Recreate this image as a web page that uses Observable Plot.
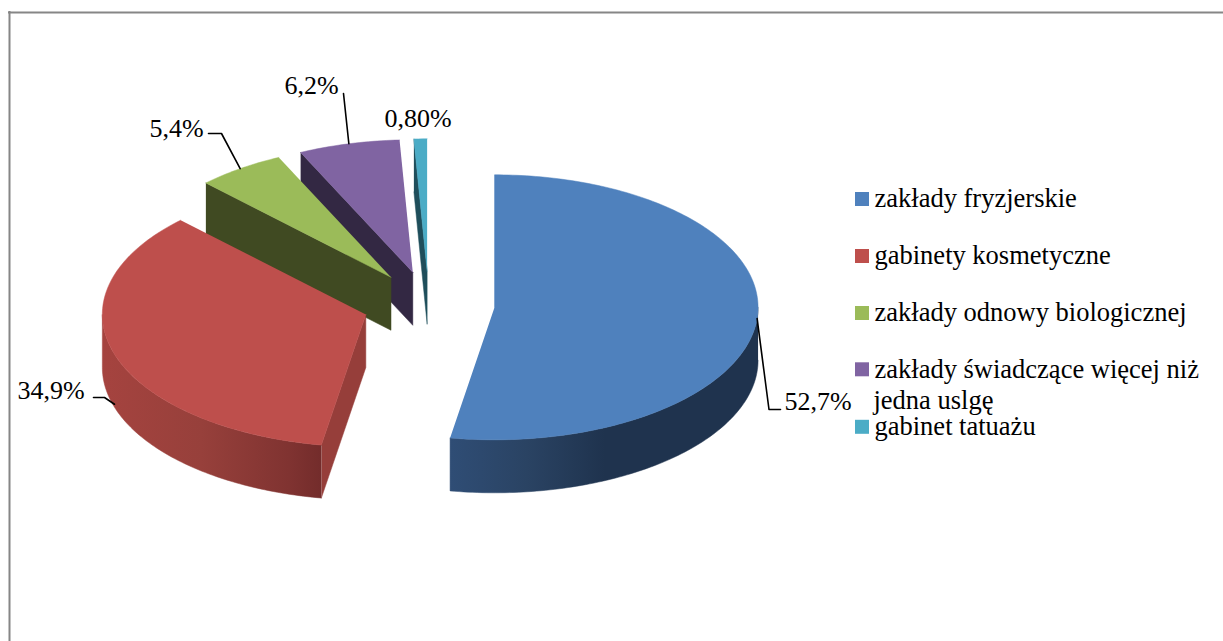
<!DOCTYPE html>
<html lang="pl">
<head>
<meta charset="utf-8">
<style>html,body{margin:0;padding:0;background:#fff}svg{display:block}svg text{font-family:"Liberation Serif","Times New Roman",Times,serif !important}</style>
<script src="https://cdn.jsdelivr.net/npm/d3@7"></script>
<script src="https://cdn.jsdelivr.net/npm/@observablehq/plot@0.6"></script>
</head>
<body>
<div id="chart"></div>
<script>
// --- data ---
const categories = ["zakłady fryzjerskie", "gabinety kosmetyczne", "zakłady odnowy biologicznej", "zakłady świadczące więcej niż\njedna uslgę", "gabinet tatuażu"];
const shares = [52.7, 34.9, 5.4, 6.2, 0.8];
const shareLabels = ["52,7%", "34,9%", "5,4%", "6,2%", "0,80%"];

// --- styles and layout ---
const topColors = ["#4f81bd", "#be4f4c", "#9bbb59", "#8064a2", "#4bacc6"];
const wallColors = ["url(#rimBlue)", "url(#rimRed)", "#404a22", "#332843", "#1f4e5b"];
const cutColors = ["#1f334e", "#963e3a", "#404a22", "#332843", "#1f4e5b"];
const FONT = '"Liberation Serif", "Times New Roman", Times, serif', LABEL_FS = 26, LEGEND_FS = 26.5;
const C = {x: 428.3, y: 304}, RX = 263.5, RY = 132.5, EXPLODE = 66, DEPTH = 53;
const labelPos = [[784, 409], [17, 398], [149, 136], [284, 93], [384, 126]];
const leaderElbows = [[[768.5, 409], [780, 409]], [[104, 397], [93, 397]], [[221, 133], [208, 133]], [[343, 93]], []];
const legendBaselines = [206.7, 263.7, 320.7, 377, 434.5];

// --- pie geometry, derived from the shares ---
const rad = d => d * Math.PI / 180;
let acc = 0;
const slices = shares.map((v, i) => {
  const a0 = acc * 3.6; acc += v; const a1 = acc * 3.6; const mid = (a0 + a1) / 2;
  const apex = {x: C.x + EXPLODE * Math.sin(rad(mid)), y: C.y - EXPLODE * (RY / RX) * Math.cos(rad(mid))};
  return {i, a0, a1, mid, apex};
});
const rimPt = (s, a, dy = 0) => ({x: s.apex.x + RX * Math.sin(rad(a)), y: s.apex.y - RY * Math.cos(rad(a)) + dy});
const arc = (s, a, b, dy = 0) => { const n = Math.max(2, Math.ceil(Math.abs(b - a))); return d3.range(n + 1).map(k => rimPt(s, a + (b - a) * k / n, dy)); };
const down = (p) => ({x: p.x, y: p.y + DEPTH});
const poly = (pts, fill) => Plot.line(pts, {x: "x", y: "y", fill, stroke: fill, strokeWidth: 0.5, curve: "linear"});

const sliceMarks = [];
for (const s of [slices[4], slices[3], slices[2], slices[1], slices[0]]) {
  // visible cut face at the slice's start edge
  if (Math.sin(rad(s.a0)) < -1e-6) {
    const r = rimPt(s, s.a0);
    sliceMarks.push(poly([r, s.apex, down(s.apex), down(r)], cutColors[s.i]));
  }
  // visible outer rim (front half)
  const f0 = Math.max(s.a0, 90), f1 = Math.min(s.a1, 270);
  if (f1 > f0) sliceMarks.push(poly([...arc(s, f0, f1), ...arc(s, f1, f0, DEPTH)], wallColors[s.i]));
  // top face
  sliceMarks.push(poly([s.apex, ...arc(s, s.a0, s.a1)], topColors[s.i]));
}

// leaders start on the slice's rim at its mid angle
const leaders = slices.map((s, i) => {
  if (!leaderElbows[i].length) return null;
  const start = i === 1 ? rimPt(s, s.mid, DEPTH - 3) : rimPt(s, s.mid);
  return [start, ...leaderElbows[i].map(([x, y]) => ({x, y}))];
}).filter(Boolean);

const labelRows = shareLabels.map((t, i) => ({t, x: labelPos[i][0], y: labelPos[i][1]}));
const legendRows = categories.flatMap((c, i) => c.split("\n").map((t, k) => ({t, x: 874 - k, y: legendBaselines[i] + k * 31})));
const swatches = categories.map((c, i) => ({c: topColors[i], x1: 855, x2: 869, y1: legendBaselines[i] - 14.7, y2: legendBaselines[i] - 0.7}));

function gradients() {
  const defs = d3.create("svg:defs");
  const add = (id, stops, x1, x2) => {
    const g = defs.append("linearGradient").attr("id", id).attr("gradientUnits", "userSpaceOnUse")
      .attr("x1", x1).attr("x2", x2).attr("y1", 0).attr("y2", 0);
    stops.forEach(([o, c]) => g.append("stop").attr("offset", o).attr("stop-color", c));
  };
  add("rimBlue", [[0, "#2f4d75"], [0.25, "#2a4363"], [0.5, "#1f334e"], [1, "#1f334e"]], 450, 758);
  add("rimRed", [[0, "#a5433f"], [0.45, "#97403b"], [0.85, "#803331"], [1, "#732c2b"]], 102, 321);
  return defs.node();
}

const chart = Plot.plot({
  width: 1223, height: 641, margin: 0,
  x: {domain: [0, 1223], range: [0, 1223], axis: null},
  y: {domain: [0, 641], range: [0, 641], axis: null},
  style: {background: "#fff", fontFamily: FONT},
  marks: [
    gradients,
    Plot.ruleX([9], {y1: 11, y2: 641, stroke: "#868686", strokeWidth: 2}),
    Plot.ruleY([12], {x1: 8, x2: 1223, stroke: "#868686", strokeWidth: 2}),
    ...sliceMarks,
    ...leaders.map(l => Plot.line(l, {x: "x", y: "y", stroke: "#000", strokeWidth: 1.6, curve: "linear"})),
    Plot.text(labelRows, {x: "x", y: "y", text: "t", textAnchor: "start", lineAnchor: "bottom", fontFamily: FONT, fontSize: LABEL_FS, fill: "#000"}),
    Plot.rect(swatches, {x1: "x1", x2: "x2", y1: "y1", y2: "y2", fill: "c"}),
    Plot.text(legendRows, {x: "x", y: "y", text: "t", textAnchor: "start", lineAnchor: "bottom", fontFamily: FONT, fontSize: LEGEND_FS, fill: "#000"})
  ]
});
document.getElementById("chart").append(chart);
</script>
</body>
</html>
